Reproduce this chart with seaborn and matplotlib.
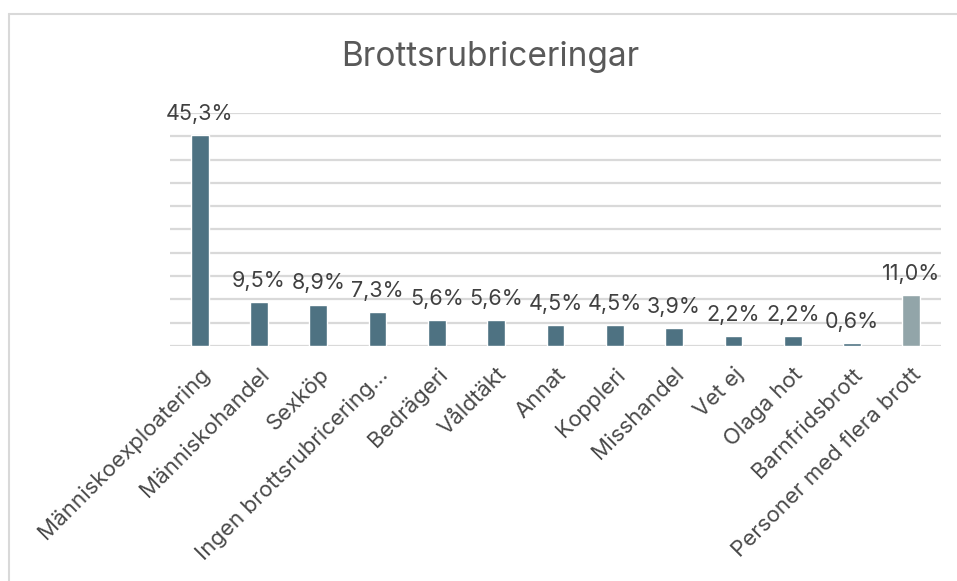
import matplotlib
matplotlib.use("Agg")
import matplotlib.pyplot as plt
import seaborn as sns
import pandas as pd
from matplotlib.lines import Line2D

categories = ["Människoexploatering", "Människohandel", "Sexköp",
              "Ingen brottsrubricering…", "Bedrägeri", "Våldtäkt", "Annat",
              "Koppleri", "Misshandel", "Vet ej", "Olaga hot",
              "Barnfridsbrott", "Personer med flera brott"]
values = [45.3, 9.5, 8.9, 7.3, 5.6, 5.6, 4.5, 4.5, 3.9, 2.2, 2.2, 0.6, 11.0]
labels = ["45,3%", "9,5%", "8,9%", "7,3%", "5,6%", "5,6%", "4,5%", "4,5%",
          "3,9%", "2,2%", "2,2%", "0,6%", "11,0%"]
colors = ["#4e7282"] * 12 + ["#92a5a9"]

sns.set_theme(style="white")
plt.rcParams["font.family"] = ["Inter", "DejaVu Sans"]

df = pd.DataFrame({"cat": categories, "val": values})

W, H = 957, 581
fig = plt.figure(figsize=(W / 100, H / 100), dpi=100)
ax = fig.add_axes([170 / W, 1 - 346 / H, (941 - 170) / W, (346 - 113) / H])

sns.barplot(data=df, x="cat", y="val", hue="cat", palette=colors,
            legend=False, width=0.3, ax=ax, saturation=1)

ax.set_ylim(0, 50)
ax.set_xlim(-0.5, len(categories) - 0.5)
ax.set_yticks(range(0, 51, 5))
ax.yaxis.grid(True, color="#d9d9d9", linewidth=1.6)
ax.set_axisbelow(True)
ax.tick_params(axis="y", left=False, labelleft=False)
ax.tick_params(axis="x", bottom=False, pad=7)
for s in ax.spines.values():
    s.set_visible(False)
ax.set_xlabel("")
ax.set_ylabel("")
ax.set_xticks(range(len(categories)))
ax.set_xticklabels(categories, rotation=45, ha="right", rotation_mode="anchor",
                   fontsize=16, color="#4a4a4a")

for i, (v, lab) in enumerate(zip(values, labels)):
    ax.annotate(lab, (i, v), xytext=(0, 8), textcoords="offset points",
                ha="center", va="bottom", fontsize=15.5, color="#404040")

fig.text(490 / W, 1 - 57 / H, "Brottsrubriceringar", ha="center", va="center",
         fontsize=24, color="#595959")

# outer frame
fig.add_artist(Line2D([9 / W, 9 / W], [0, 1 - 14 / H], transform=fig.transFigure,
                      color="#d9d9d9", linewidth=1.5))
fig.add_artist(Line2D([9 / W, 1], [1 - 14 / H, 1 - 14 / H], transform=fig.transFigure,
                      color="#d9d9d9", linewidth=1.5))

fig.savefig("out.png", dpi=100, facecolor="white")
